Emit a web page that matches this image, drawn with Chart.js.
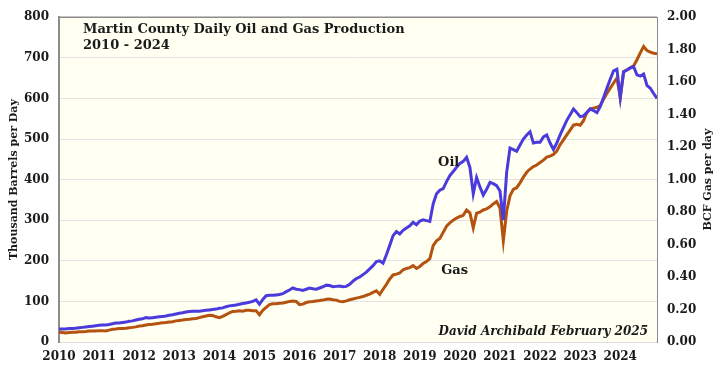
<!DOCTYPE html>
<html>
<head>
<meta charset="utf-8">
<script src="https://cdn.jsdelivr.net/npm/chart.js@4.4.1/dist/chart.umd.min.js"></script>
<style>
  html, body { margin: 0; padding: 0; background: #fff; }
  #wrap { width: 720px; height: 375px; }
</style>
</head>
<body>
<div id="wrap"><canvas id="chart" width="720" height="375"></canvas></div>
<script>
// Monthly data, Jan 2010 - Dec 2024 (one row per year)
const years = [2010, 2011, 2012, 2013, 2014, 2015, 2016, 2017, 2018, 2019, 2020, 2021, 2022, 2023, 2024];

// Oil, thousand barrels per day (left axis)
const oilKbd = [
  32, 32, 32, 33, 33, 34, 35, 36, 37, 38, 39, 40,
  41, 42, 42, 43, 45, 47, 47, 48, 49, 51, 52, 54,
  56, 57, 60, 59, 60, 61, 62, 63, 64, 66, 67, 69,
  71, 72, 74, 75, 76, 76, 76, 77, 78, 79, 80, 81,
  83, 84, 87, 89, 90, 91, 93, 95, 96, 98, 100, 104,
  93, 105, 114, 115, 115, 116, 117, 119, 124, 128, 133, 130,
  129, 127, 130, 133, 131, 130, 133, 136, 140, 139, 136, 137,
  138, 136, 137, 142, 150, 156, 160, 166, 172, 180, 188, 198,
  200, 194, 215, 238, 262, 272, 266, 275, 281, 286, 295, 289,
  298, 301, 299, 297, 340, 365, 374, 378, 395, 410, 420, 430,
  440, 445, 455, 430, 365, 405, 382, 362, 376, 393, 390, 385,
  372, 300, 418, 478, 474, 470, 485, 500, 510, 518, 490, 492,
  492, 505, 510, 490, 474, 490, 510, 528, 546, 560, 574, 565,
  555, 557, 565, 574, 570, 565, 580, 602, 625, 647, 668, 672,
  602, 665, 670, 675, 678, 658, 655, 660, 632, 625, 612, 600
];

// Gas, BCF per day (right axis)
const gasBcf = [
  0.060, 0.058, 0.055, 0.058, 0.060, 0.060, 0.063, 0.063, 0.065, 0.068, 0.068, 0.068,
  0.070, 0.070, 0.068, 0.073, 0.078, 0.080, 0.083, 0.083, 0.085, 0.088, 0.090, 0.093,
  0.098, 0.100, 0.105, 0.108, 0.110, 0.113, 0.115, 0.118, 0.120, 0.123, 0.125, 0.130,
  0.133, 0.135, 0.138, 0.140, 0.143, 0.145, 0.150, 0.155, 0.160, 0.165, 0.163, 0.155,
  0.150, 0.158, 0.168, 0.180, 0.188, 0.190, 0.193, 0.190, 0.195, 0.195, 0.193, 0.193,
  0.168, 0.195, 0.213, 0.230, 0.235, 0.235, 0.238, 0.240, 0.245, 0.250, 0.253, 0.250,
  0.230, 0.233, 0.243, 0.248, 0.250, 0.253, 0.255, 0.258, 0.263, 0.265, 0.260, 0.258,
  0.250, 0.248, 0.253, 0.260, 0.265, 0.270, 0.275, 0.280, 0.288, 0.295, 0.305, 0.315,
  0.293, 0.325, 0.355, 0.388, 0.413, 0.418, 0.425, 0.445, 0.453, 0.458, 0.470, 0.453,
  0.465, 0.483, 0.495, 0.513, 0.593, 0.623, 0.638, 0.675, 0.713, 0.733, 0.750, 0.763,
  0.773, 0.780, 0.813, 0.795, 0.703, 0.793, 0.800, 0.813, 0.820, 0.833, 0.850, 0.865,
  0.825, 0.623, 0.805, 0.900, 0.940, 0.950, 0.980, 1.015, 1.045, 1.065, 1.080, 1.090,
  1.105, 1.120, 1.138, 1.145, 1.155, 1.175, 1.215, 1.245, 1.275, 1.305, 1.335, 1.340,
  1.335, 1.363, 1.413, 1.435, 1.440, 1.445, 1.455, 1.495, 1.530, 1.563, 1.595, 1.625,
  1.505, 1.665, 1.675, 1.688, 1.700, 1.738, 1.780, 1.820, 1.795, 1.785, 1.778, 1.775
];

const leftTicks = [0, 100, 200, 300, 400, 500, 600, 700, 800];
const rightTicks = [0, 0.2, 0.4, 0.6, 0.8, 1.0, 1.2, 1.4, 1.6, 1.8, 2.0];

// month positions as fractional years
const months = [];
years.forEach(y => {
    for (let m = 0; m < 12; m++) months.push(y + m / 12);
});

const serif = "'DejaVu Serif', Georgia, serif";
const textColor = '#1a1a1a';

const chartText = {
    id: 'chartText',
    beforeDraw(chart) {
        const { ctx, chartArea: a } = chart;
        ctx.save();
        ctx.fillStyle = '#fffff2';
        ctx.fillRect(a.left, a.top, a.right - a.left, a.bottom - a.top);
        ctx.restore();
    },
    afterDraw(chart) {
        const { ctx, chartArea: a, scales } = chart;
        ctx.save();
        // top border
        ctx.strokeStyle = '#8c8c8c';
        ctx.lineWidth = 1.5;
        ctx.beginPath();
        ctx.moveTo(a.left, a.top);
        ctx.lineTo(a.right, a.top);
        ctx.stroke();

        ctx.fillStyle = textColor;
        ctx.textBaseline = 'alphabetic';
        ctx.textAlign = 'left';
        ctx.font = 'bold 13px ' + serif;
        ctx.fillText('Martin County Daily Oil and Gas Production', a.left + 24, 33);
        ctx.fillText('2010 - 2024', a.left + 24, 49);

        ctx.textAlign = 'center';
        ctx.fillText('Oil', scales.x.getPixelForValue(2019.72), scales.y.getPixelForValue(440) + 3);
        ctx.fillText('Gas', scales.x.getPixelForValue(2019.87), scales.y.getPixelForValue(175) + 3);

        ctx.textAlign = 'right';
        ctx.font = 'italic bold 12px ' + serif;
        ctx.fillText('David Archibald February 2025', a.right - 9, a.bottom - 7);

        // axis titles
        ctx.font = 'bold 11px ' + serif;
        ctx.textAlign = 'center';
        ctx.textBaseline = 'middle';
        const midY = (a.top + a.bottom) / 2;
        ctx.translate(14, midY);
        ctx.rotate(-Math.PI / 2);
        ctx.fillText('Thousand Barrels per Day', 0, 0);
        ctx.rotate(Math.PI / 2);
        ctx.translate(-14, -midY);
        ctx.translate(708, midY);
        ctx.rotate(-Math.PI / 2);
        ctx.fillText('BCF Gas per day', 0, 0);
        ctx.restore();
    }
};

new Chart(document.getElementById('chart'), {
    type: 'line',
    data: {
        labels: months,
        datasets: [
            {
                label: 'Oil',
                data: oilKbd.map((v, i) => ({ x: months[i], y: v })),
                borderColor: '#4b3bdc',
                borderWidth: 3,
                pointRadius: 0,
                yAxisID: 'y'
            },
            {
                label: 'Gas',
                data: gasBcf.map((v, i) => ({ x: months[i], y: v })),
                borderColor: '#b4520f',
                borderWidth: 3,
                pointRadius: 0,
                yAxisID: 'y1'
            }
        ]
    },
    options: {
        responsive: false,
        animation: false,
        layout: { padding: { top: 10, left: 0, right: 0, bottom: 0 } },
        plugins: {
            legend: { display: false },
            tooltip: { enabled: false }
        },
        scales: {
            x: {
                type: 'linear',
                min: years[0],
                max: years[years.length - 1] + 11 / 12,
                afterFit: s => { s.height = 33; },
                grid: { display: false, drawTicks: false },
                border: { color: '#dcdcdc', width: 1 },
                ticks: {
                    stepSize: 1,
                    includeBounds: false,
                    maxRotation: 0,
                    autoSkip: false,
                    padding: 8,
                    color: textColor,
                    font: { family: serif, weight: 'bold', size: 12 },
                    callback: v => String(v)
                }
            },
            y: {
                position: 'left',
                min: leftTicks[0],
                max: leftTicks[leftTicks.length - 1],
                afterFit: s => { s.width = 59; },
                afterBuildTicks: s => { s.ticks = leftTicks.map(v => ({ value: v })); },
                grid: { color: '#e2e2e2', lineWidth: 1, drawTicks: false },
                border: { color: '#8c8c8c', width: 2 },
                ticks: {
                    padding: 10,
                    color: textColor,
                    font: { family: serif, weight: 'bold', size: 12 }
                }
            },
            y1: {
                position: 'right',
                min: rightTicks[0],
                max: rightTicks[rightTicks.length - 1],
                afterFit: s => { s.width = 63; },
                afterBuildTicks: s => { s.ticks = rightTicks.map(v => ({ value: v })); },
                grid: { display: false, drawTicks: false },
                border: { color: '#8c8c8c', width: 1 },
                ticks: {
                    padding: 10,
                    color: textColor,
                    font: { family: serif, weight: 'bold', size: 12 },
                    callback: v => v.toFixed(2)
                }
            }
        }
    },
    plugins: [chartText]
});
</script>
</body>
</html>
